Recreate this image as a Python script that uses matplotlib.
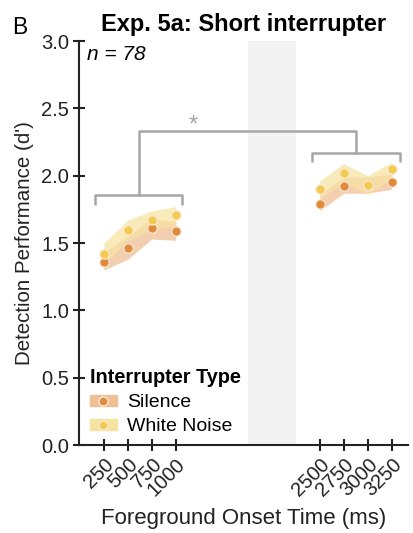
import matplotlib
matplotlib.use("Agg")
import matplotlib.pyplot as plt
from matplotlib.lines import Line2D
from matplotlib.patches import Patch

plt.rcParams["font.family"] = ["Liberation Sans", "DejaVu Sans"]

# onset times (ms), split around the interrupter
early_times = [250, 500, 750, 1000]
late_times = [2500, 2750, 3000, 3250]

# mean d' and confidence band per interrupter type
silence_early = [1.36, 1.46, 1.61, 1.59]
silence_early_lo = [1.30, 1.38, 1.53, 1.52]
silence_early_hi = [1.43, 1.55, 1.68, 1.66]
noise_early = [1.42, 1.60, 1.67, 1.71]
noise_early_lo = [1.34, 1.52, 1.60, 1.63]
noise_early_hi = [1.50, 1.67, 1.74, 1.77]

silence_late = [1.79, 1.92, 1.92, 1.95]
silence_late_lo = [1.74, 1.87, 1.87, 1.90]
silence_late_hi = [1.86, 1.99, 1.99, 2.01]
noise_late = [1.90, 2.02, 1.93, 2.05]
noise_late_lo = [1.83, 1.95, 1.86, 1.98]
noise_late_hi = [1.96, 2.09, 2.00, 2.10]

interrupter_span = (1750, 2250)

silence_line = "#E08A3C"
silence_fill = "#EFBF96"
noise_line = "#F2CB50"
noise_fill = "#F6E3A2"
bracket_col = "#A6A6A6"
ink = "#222222"

fig = plt.figure(figsize=(4.13, 5.33), dpi=100)
ax = fig.add_axes([0.191, 0.165, 0.797, 0.758])

ax.axvspan(*interrupter_span, color="#F3F3F3", zorder=0, lw=0)

for times, groups in [
    (early_times, [(silence_early, silence_early_lo, silence_early_hi, silence_line, silence_fill),
                   (noise_early, noise_early_lo, noise_early_hi, noise_line, noise_fill)]),
    (late_times, [(silence_late, silence_late_lo, silence_late_hi, silence_line, silence_fill),
                  (noise_late, noise_late_lo, noise_late_hi, noise_line, noise_fill)]),
]:
    for mean, lo, hi, lc, fc in groups:
        ax.fill_between(times, lo, hi, color=fc, alpha=0.75, lw=0, zorder=2)
        ax.scatter(times, mean, s=45, color=lc, edgecolor="#FBE9D6", linewidth=0.8, zorder=3)

# significance brackets
def bracket(x0, x1, y, drop):
    ax.plot([x0, x0, x1, x1], [y - drop, y, y, y - drop], color=bracket_col, lw=1.8,
            solid_capstyle="butt", zorder=1)

bracket(156, 1067, 1.855, 0.075)
bracket(2420, 3331, 2.17, 0.07)
left_mid = (156 + 1067) / 2
right_mid = (2420 + 3331) / 2
ax.plot([left_mid, left_mid, right_mid, right_mid], [1.855, 2.335, 2.335, 2.17],
        color=bracket_col, lw=1.8, zorder=1)
ax.text(1183, 2.37, "*", color=bracket_col, fontsize=17, ha="center", va="center")

ax.set_xlim(-10, 3420)
ax.set_ylim(0, 3.0)
ax.set_yticks([0, 0.5, 1.0, 1.5, 2.0, 2.5, 3.0])
ax.set_xticks(early_times + late_times)
ax.set_xticklabels([str(t) for t in early_times + late_times], rotation=45,
                   ha="right", rotation_mode="anchor")
ax.tick_params(direction="inout", length=8, width=1.5, labelsize=14.5, colors=ink, pad=3)
for s in ["top", "right"]:
    ax.spines[s].set_visible(False)
for s in ["left", "bottom"]:
    ax.spines[s].set_linewidth(1.5)
    ax.spines[s].set_color(ink)

ax.set_ylabel("Detection Performance (d')", fontsize=14.8, color=ink, labelpad=5)
ax.set_xlabel("Foreground Onset Time (ms)", fontsize=16, color=ink, labelpad=6)
ax.set_title("Exp. 5a: Short interrupter", fontsize=17, fontweight="bold", pad=7, x=0.5)
ax.text(0.025, 0.99, "n = 78", transform=ax.transAxes, fontsize=15, style="italic",
        ha="left", va="top")
fig.text(0.029, 0.937, "B", fontsize=16.5)

handles = [
    (Patch(color=silence_fill), Line2D([], [], ls="", marker="o", ms=6.5, color=silence_line,
                                       mec="#FBE9D6")),
    (Patch(color=noise_fill), Line2D([], [], ls="", marker="o", ms=6.5, color=noise_line,
                                     mec="#FBE9D6")),
]
leg = ax.legend(handles, ["Silence", "White Noise"], title="Interrupter Type",
                loc="lower left", bbox_to_anchor=(0.033, 0.025), frameon=False,
                fontsize=14, title_fontsize=14.3, handlelength=1.4, handleheight=0.5,
                handletextpad=0.5, borderaxespad=0, borderpad=0, labelspacing=0.35)
leg.get_title().set_fontweight("bold")
leg._legend_box.align = "left"

fig.savefig("out.png", dpi=100)
